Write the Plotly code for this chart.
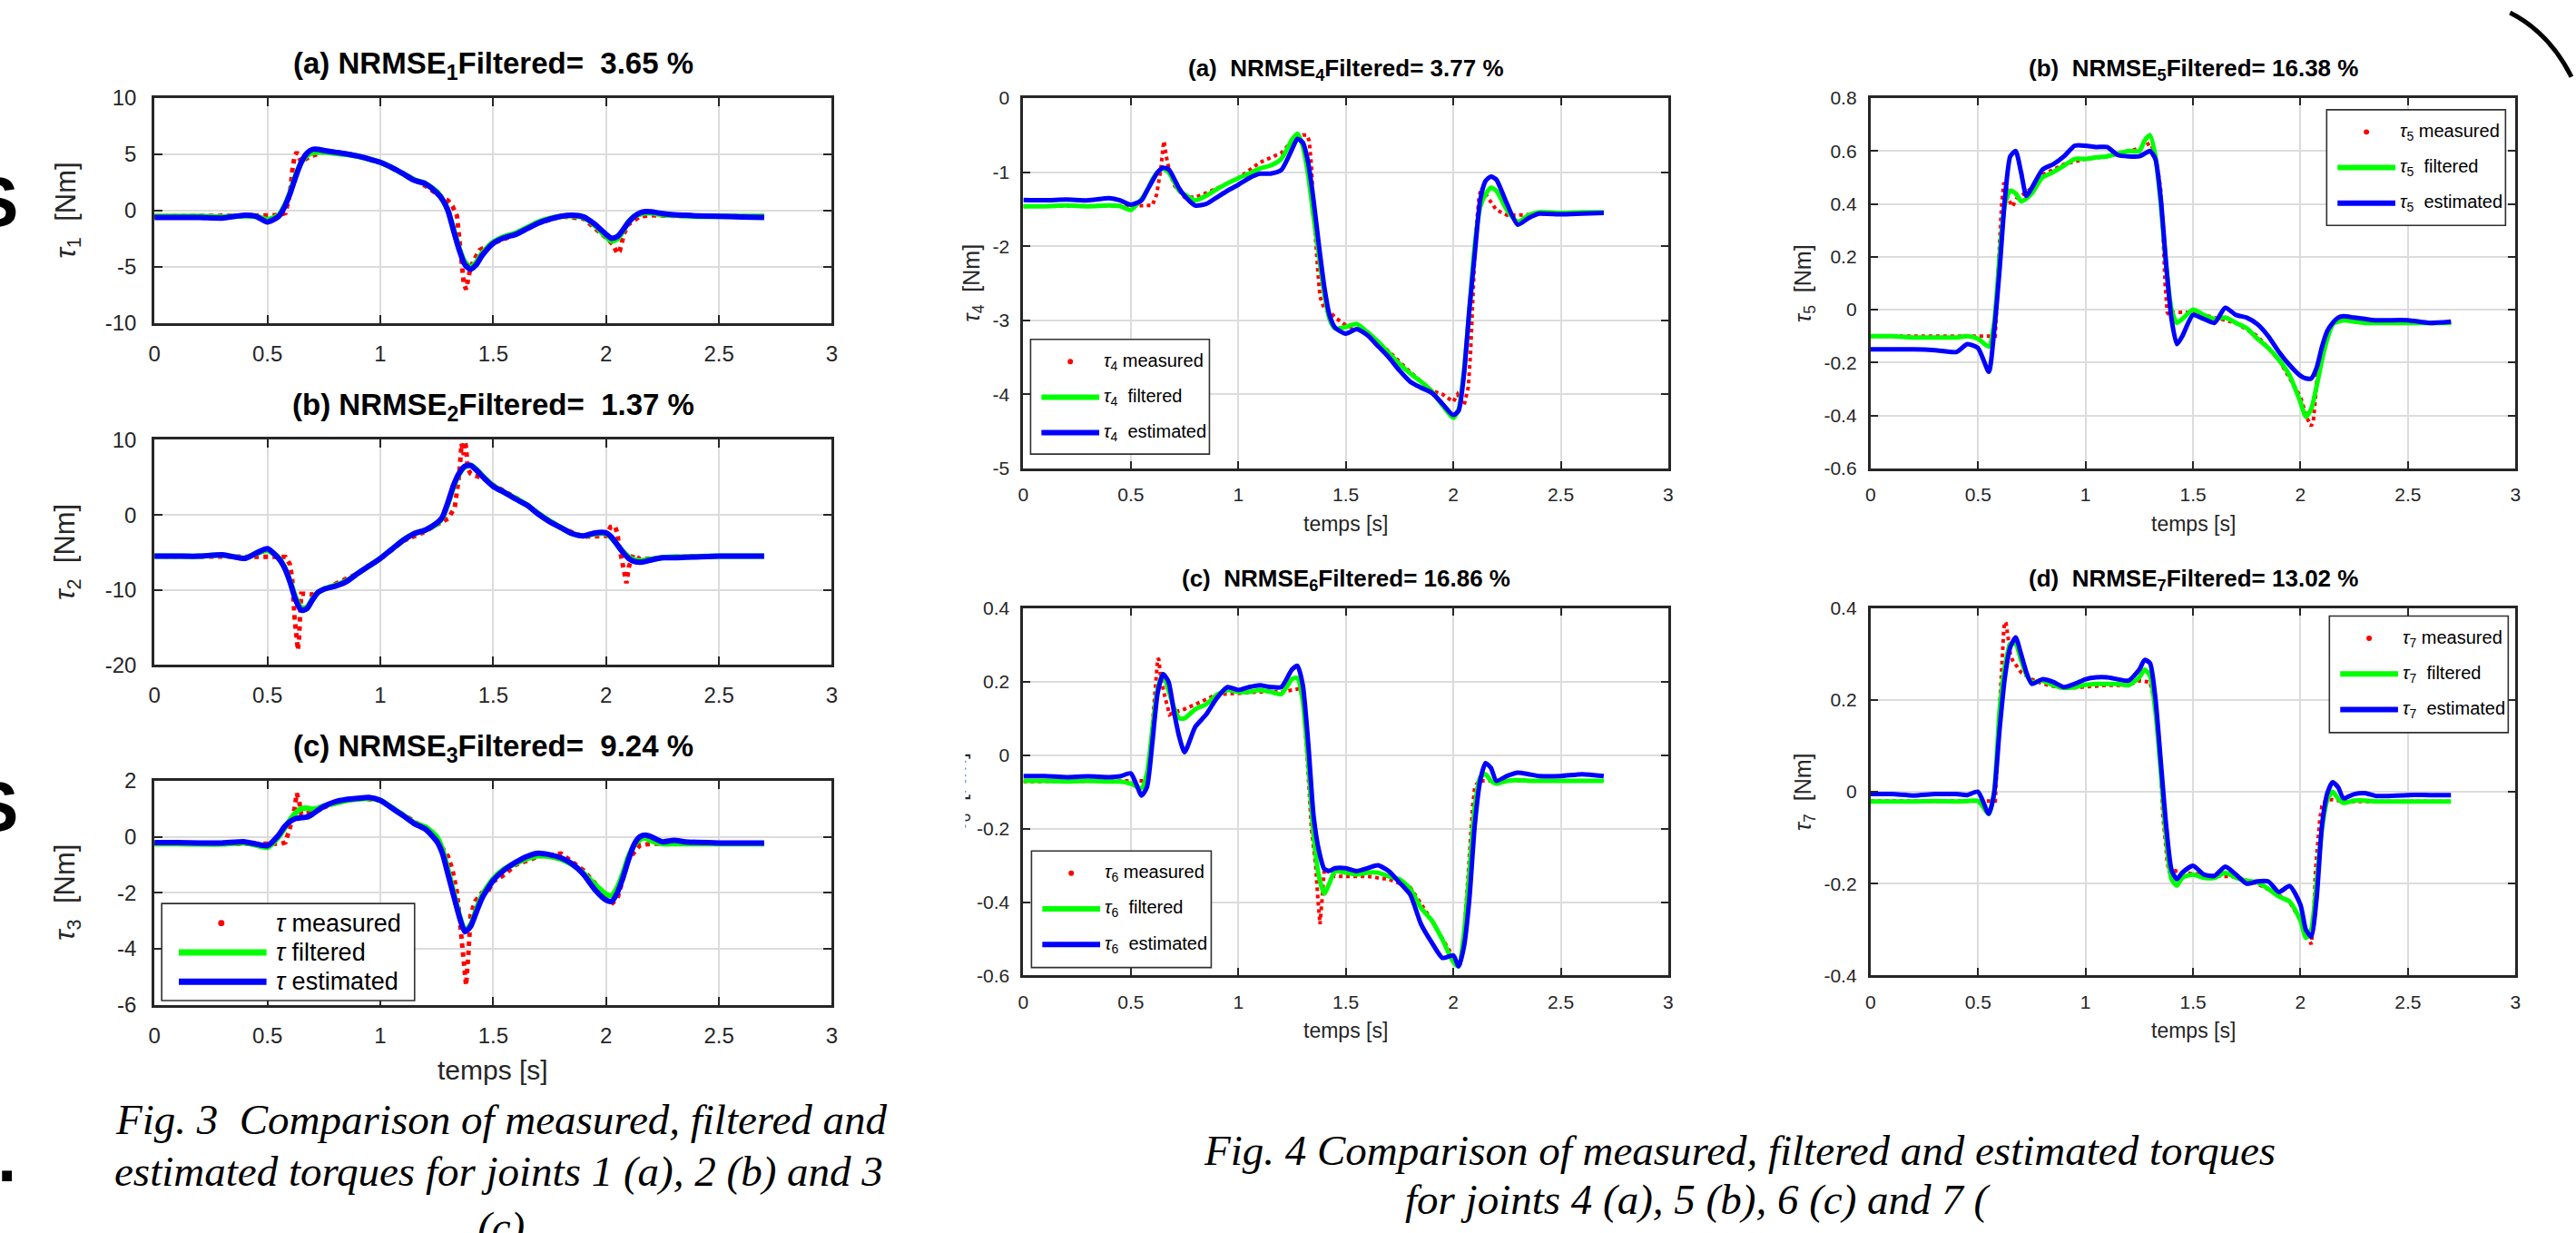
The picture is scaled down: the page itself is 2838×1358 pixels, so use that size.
import plotly.graph_objects as go

W, H = 2838, 1358
FONT = "Liberation Sans, Arial, sans-serif"
SERIF = "Liberation Serif, Times New Roman, serif"

# ---------------- shared time grid for filtered / estimated ----------------
T = [0, 0.1, 0.2, 0.3, 0.4,
     0.45, 0.5, 0.55, 0.575,
     0.6, 0.625, 0.65, 0.675, 0.7, 0.725, 0.75,
     0.8, 0.85, 0.9, 0.95, 1.0,
     1.05, 1.1, 1.15, 1.2, 1.25,
     1.275, 1.3, 1.325, 1.35, 1.375, 1.4, 1.425, 1.45,
     1.5, 1.55, 1.6, 1.65, 1.7, 1.75, 1.8, 1.85, 1.9, 1.95, 2.0,
     2.025, 2.05, 2.075, 2.1, 2.125, 2.15, 2.175,
     2.2, 2.25, 2.3, 2.35, 2.4,
     2.5, 2.6, 2.7]

# ---------------- joint 1 ----------------
est1 = [-0.6, -0.6, -0.6, -0.65, -0.4,
        -0.5, -1.0, -0.5, 0.3,
        1.5, 3.0, 4.3, 5.1, 5.45, 5.45, 5.35,
        5.2, 5.05, 4.85, 4.6, 4.3,
        3.85, 3.3, 2.7, 2.4, 1.6,
        1.0, 0.0, -1.8, -3.5, -4.8, -5.2, -4.8, -4.0,
        -2.9, -2.4, -2.1, -1.6, -1.1, -0.75, -0.5, -0.4, -0.55, -1.2, -2.1,
        -2.45, -2.3, -1.7, -1.0, -0.5, -0.2, -0.08,
        -0.1, -0.25, -0.35, -0.4, -0.45,
        -0.5, -0.55, -0.6]
filt1 = [-0.5, -0.5, -0.5, -0.55, -0.45,
         -0.5, -0.8, -0.4, 0.4,
         1.6, 3.1, 4.3, 4.9, 5.15, 5.2, 5.2,
         5.1, 5.0, 4.85, 4.6, 4.3,
         3.85, 3.3, 2.75, 2.4, 1.7,
         1.0, 0.0, -1.7, -3.4, -4.6, -5.0, -4.6, -3.8,
         -2.8, -2.3, -2.0, -1.5, -1.0, -0.7, -0.5, -0.45, -0.6, -1.3, -2.3,
         -2.7, -2.5, -1.8, -1.0, -0.5, -0.3, -0.2,
         -0.2, -0.35, -0.4, -0.45, -0.5,
         -0.5, -0.5, -0.5]
tm1 = [0, 0.2, 0.4, 0.5, 0.55, 0.58, 0.6, 0.61, 0.62, 0.63, 0.64, 0.65, 0.67, 0.7, 0.75,
       0.8, 0.9, 1.0, 1.1, 1.2, 1.25, 1.3, 1.32, 1.34, 1.35, 1.36, 1.37, 1.38, 1.39, 1.4,
       1.42, 1.44, 1.46, 1.5, 1.6, 1.7, 1.8, 1.9, 2.0, 2.03, 2.05, 2.06, 2.08, 2.1, 2.15,
       2.2, 2.3, 2.5, 2.7]
ym1 = [-0.5, -0.5, -0.5, -0.5, -0.4, -0.2, 1.5, 3.5, 4.8, 5.2, 4.6, 4.3, 4.6, 4.9, 5.2,
       5.2, 4.9, 4.3, 3.3, 2.2, 1.5, 0.9, 0.4, -0.5, -2.5, -4.5, -6.5, -7.0, -6.0, -5.0,
       -4.2, -3.5, -3.3, -2.9, -2.1, -1.1, -0.5, -0.7, -2.4, -3.0, -3.8, -3.6, -2.0, -1.2, -0.5,
       -0.4, -0.45, -0.5, -0.5]

# ---------------- joint 2 ----------------
est2 = [-5.5, -5.5, -5.5, -5.3, -5.8,
        -5.1, -4.5, -5.8, -7.0,
        -8.9, -11.3, -12.7, -12.5, -11.3, -10.3, -9.9,
        -9.5, -8.9, -7.8, -6.8, -5.8,
        -4.6, -3.4, -2.5, -2.0, -1.1,
        -0.3, 1.7, 4.0, 5.6, 6.5, 6.6, 6.0, 5.2,
        3.8, 3.0, 2.1, 1.3, 0.1, -0.9, -1.7, -2.5, -2.8, -2.4, -2.4,
        -3.0, -4.0, -5.0, -5.8, -6.2, -6.3, -6.2,
        -6.0, -5.7, -5.7, -5.65, -5.6,
        -5.5, -5.5, -5.5]
filt2 = [-5.5, -5.5, -5.5, -5.35, -5.75,
         -5.15, -4.7, -5.7, -6.9,
         -8.8, -11.0, -12.4, -12.3, -11.2, -10.3, -9.9,
         -9.4, -8.8, -7.8, -6.8, -5.8,
         -4.6, -3.4, -2.5, -2.0, -1.2,
         -0.4, 1.5, 3.8, 5.5, 6.4, 6.6, 6.1, 5.3,
         3.9, 3.0, 2.2, 1.3, 0.2, -0.8, -1.7, -2.5, -2.8, -2.5, -2.5,
         -3.1, -4.0, -4.9, -5.6, -6.0, -6.1, -6.0,
         -5.9, -5.7, -5.6, -5.6, -5.55,
         -5.5, -5.5, -5.5]
tm2 = [0, 0.2, 0.4, 0.5, 0.55, 0.58, 0.6, 0.61, 0.62, 0.625, 0.63, 0.635, 0.64, 0.645, 0.65,
       0.66, 0.7, 0.75, 0.8, 0.9, 1.0, 1.1, 1.2, 1.25, 1.3, 1.33, 1.35, 1.36, 1.37, 1.375,
       1.38, 1.385, 1.39, 1.4, 1.42, 1.45, 1.5, 1.6, 1.7, 1.8, 1.9, 2.0, 2.02, 2.04, 2.05,
       2.06, 2.07, 2.08, 2.09, 2.1, 2.12, 2.15, 2.2, 2.3, 2.5, 2.7]
ym2 = [-5.5, -5.5, -5.6, -5.5, -5.5, -5.6, -6.6, -8.5, -13.5, -15.5, -17.0, -18.0, -16.5, -13.0, -10.5,
       -10.5, -10.6, -10.0, -9.2, -7.8, -5.9, -3.5, -2.2, -1.3, -0.5, 1.0, 5.5, 9.5, 8.0, 9.8,
       9.0, 7.0, 6.0, 5.5, 5.2, 5.0, 4.0, 2.3, 0.2, -1.7, -2.9, -2.8, -1.6, -1.5, -2.5,
       -4.5, -6.0, -7.5, -9.1, -7.0, -5.3, -5.9, -5.8, -5.6, -5.5, -5.5]

# ---------------- joint 3 ----------------
est3 = [-0.21, -0.21, -0.22, -0.22, -0.18,
        -0.26, -0.32, 0.06, 0.35,
        0.54, 0.65, 0.68, 0.7, 0.81, 0.95, 1.08,
        1.25, 1.33, 1.37, 1.4, 1.3,
        1.03, 0.76, 0.47, 0.27, -0.16,
        -0.59, -1.34, -2.1, -2.85, -3.39, -3.2, -2.7, -2.2,
        -1.56, -1.18, -0.91, -0.7, -0.59, -0.64, -0.75, -0.97, -1.34, -1.88, -2.26,
        -2.31, -1.99, -1.45, -0.8, -0.26, 0.0, 0.06,
        0.0, -0.18, -0.13, -0.18, -0.2,
        -0.22, -0.22, -0.22]
filt3 = [-0.25, -0.25, -0.26, -0.26, -0.22,
         -0.3, -0.38, 0.0, 0.3,
         0.6, 0.85, 1.0, 1.02, 0.98, 1.02, 1.1,
         1.2, 1.3, 1.35, 1.37, 1.3,
         1.05, 0.78, 0.5, 0.35, 0.0,
         -0.45, -1.2, -2.0, -2.8, -3.35, -3.15, -2.6, -2.1,
         -1.5, -1.15, -0.95, -0.78, -0.68, -0.7, -0.8, -1.0, -1.3, -1.7, -2.05,
         -2.1, -1.8, -1.3, -0.7, -0.3, -0.1, -0.05,
         -0.15, -0.25, -0.25, -0.25, -0.25,
         -0.25, -0.25, -0.25]
tm3 = [0, 0.2, 0.4, 0.5, 0.56, 0.58, 0.6, 0.61, 0.62, 0.63, 0.64, 0.65, 0.66, 0.7, 0.75,
       0.8, 0.9, 1.0, 1.1, 1.2, 1.25, 1.3, 1.32, 1.34, 1.35, 1.36, 1.37, 1.375, 1.38, 1.39,
       1.4, 1.42, 1.45, 1.48, 1.5, 1.55, 1.6, 1.7, 1.8, 1.85, 1.9, 2.0, 2.03, 2.05, 2.08,
       2.1, 2.15, 2.2, 2.5, 2.7]
ym3 = [-0.25, -0.25, -0.25, -0.27, -0.25, -0.2, 0.27, 0.6, 1.0, 1.55, 1.3, 0.8, 0.85, 0.85, 1.05,
       1.2, 1.38, 1.3, 0.8, 0.3, -0.1, -0.7, -1.2, -2.0, -2.8, -3.6, -4.15, -4.8, -5.3, -4.2,
       -2.8, -2.3, -2.0, -1.9, -1.6, -1.35, -1.0, -0.7, -0.6, -0.9, -1.2, -2.1, -2.35, -2.2, -1.3,
       -0.8, -0.3, -0.25, -0.25, -0.25]

# ---------------- joint 4 ----------------
est4 = [-1.375, -1.38, -1.37, -1.38, -1.35,
        -1.38, -1.44, -1.38, -1.25,
        -1.12, -1.0, -0.94, -0.96, -1.08, -1.22, -1.32,
        -1.45, -1.43, -1.34, -1.25, -1.17,
        -1.08, -1.02, -1.02, -0.97, -0.69,
        -0.55, -0.6, -0.87, -1.38, -1.99, -2.55, -2.94, -3.1,
        -3.18, -3.12, -3.2, -3.35, -3.5, -3.68, -3.83, -3.91, -3.98, -4.13, -4.28,
        -4.22, -3.72, -2.85, -2.1, -1.38, -1.12, -1.06,
        -1.1, -1.43, -1.71, -1.62, -1.56,
        -1.57, -1.56, -1.55]
filt4 = [-1.46, -1.46, -1.45, -1.46, -1.45,
         -1.46, -1.51, -1.36, -1.25,
         -1.1, -1.0, -0.95, -1.0, -1.12, -1.25, -1.3,
         -1.38, -1.32, -1.23, -1.15, -1.08,
         -1.02, -0.95, -0.91, -0.82, -0.56,
         -0.48, -0.65, -1.04, -1.6, -2.12, -2.64, -2.99, -3.11,
         -3.09, -3.05, -3.16, -3.29, -3.44, -3.59, -3.72, -3.83, -3.96, -4.15, -4.32,
         -4.2, -3.68, -2.85, -1.99, -1.47, -1.3, -1.21,
         -1.25, -1.51, -1.67, -1.58, -1.54,
         -1.55, -1.54, -1.54]
tm4 = [0, 0.2, 0.4, 0.5, 0.6, 0.62, 0.64, 0.65, 0.655, 0.66, 0.67, 0.7, 0.75, 0.8, 0.9,
       1.0, 1.1, 1.2, 1.25, 1.3, 1.32, 1.33, 1.34, 1.35, 1.36, 1.37, 1.38, 1.4, 1.43, 1.45,
       1.5, 1.6, 1.7, 1.8, 1.9, 1.95, 2.0, 2.02, 2.05, 2.07, 2.08, 2.09, 2.1, 2.11, 2.12,
       2.13, 2.15, 2.2, 2.25, 2.3, 2.5, 2.7]
ym4 = [-1.46, -1.46, -1.46, -1.46, -1.45, -1.3, -0.95, -0.65, -0.58, -0.69, -0.87, -1.17, -1.34, -1.34, -1.22,
       -1.08, -0.87, -0.74, -0.58, -0.5, -0.5, -0.58, -0.91, -1.5, -2.0, -2.34, -2.68, -2.85, -2.9, -2.96,
       -3.07, -3.17, -3.42, -3.7, -3.95, -4.0, -4.1, -4.0, -4.15, -3.9, -3.46, -2.68, -2.08, -1.64, -1.34,
       -1.21, -1.3, -1.51, -1.58, -1.58, -1.55, -1.55]

# ---------------- joint 5 ----------------
est5 = [-0.15, -0.15, -0.15, -0.153, -0.16,
        -0.13, -0.145, -0.235, -0.08,
        0.15, 0.42, 0.58, 0.6, 0.52, 0.43, 0.46,
        0.53, 0.55, 0.58, 0.62, 0.62,
        0.615, 0.615, 0.585, 0.58, 0.58,
        0.59, 0.6, 0.57, 0.42, 0.17, -0.035, -0.13, -0.1,
        -0.02, -0.035, -0.05, 0.007, -0.02, -0.03, -0.055, -0.1, -0.16, -0.21, -0.25,
        -0.26, -0.26, -0.22, -0.14, -0.08, -0.05, -0.03,
        -0.025, -0.03, -0.035, -0.04, -0.04,
        -0.04, -0.05, -0.045]
filt5 = [-0.1, -0.1, -0.105, -0.105, -0.105,
         -0.1, -0.11, -0.14, -0.05,
         0.2, 0.4, 0.45, 0.44, 0.41, 0.42, 0.44,
         0.5, 0.52, 0.545, 0.57, 0.57,
         0.576, 0.58, 0.59, 0.6, 0.6,
         0.64, 0.66, 0.58, 0.4, 0.17, 0.0, -0.05, -0.035,
         0.0, -0.02, -0.035, -0.03, -0.05, -0.07, -0.11, -0.145, -0.19, -0.25, -0.35,
         -0.405, -0.375, -0.29, -0.19, -0.11, -0.055, -0.045,
         -0.04, -0.045, -0.05, -0.05, -0.05,
         -0.05, -0.05, -0.05]
tm5 = [0, 0.2, 0.4, 0.5, 0.58, 0.6, 0.61, 0.62, 0.63, 0.64, 0.66, 0.68, 0.7, 0.75, 0.8,
       0.9, 1.0, 1.1, 1.2, 1.25, 1.3, 1.32, 1.34, 1.35, 1.36, 1.37, 1.38, 1.39, 1.4, 1.45,
       1.5, 1.6, 1.7, 1.8, 1.9, 2.0, 2.03, 2.05, 2.06, 2.07, 2.08, 2.1, 2.15, 2.2, 2.5, 2.7]
ym5 = [-0.1, -0.1, -0.1, -0.1, -0.1, 0.25, 0.4, 0.48, 0.47, 0.42, 0.39, 0.42, 0.43, 0.46, 0.51,
       0.55, 0.57, 0.58, 0.6, 0.61, 0.63, 0.6, 0.51, 0.45, 0.3, 0.1, -0.01, -0.02, -0.01, -0.01,
       -0.01, -0.03, -0.05, -0.1, -0.19, -0.33, -0.41, -0.44, -0.42, -0.33, -0.23, -0.15, -0.05, -0.04, -0.05, -0.05]

# ---------------- joint 6 ----------------
est6 = [-0.057, -0.057, -0.06, -0.058, -0.06,
        -0.058, -0.05, -0.11, -0.087,
        0.034, 0.17, 0.22, 0.2, 0.12, 0.05, 0.008,
        0.077, 0.11, 0.155, 0.185, 0.177,
        0.185, 0.19, 0.185, 0.185, 0.233,
        0.243, 0.19, 0.034, -0.165, -0.26, -0.31, -0.315, -0.308,
        -0.308, -0.316, -0.308, -0.3, -0.316, -0.347, -0.38, -0.46, -0.51, -0.552, -0.545,
        -0.575, -0.52, -0.39, -0.19, -0.07, -0.022, -0.035,
        -0.07, -0.057, -0.048, -0.052, -0.057,
        -0.057, -0.052, -0.057]
filt6 = [-0.07, -0.07, -0.072, -0.07, -0.072,
         -0.072, -0.078, -0.09, -0.05,
         0.07, 0.18, 0.22, 0.177, 0.13, 0.1, 0.1,
         0.125, 0.138, 0.164, 0.177, 0.172,
         0.172, 0.177, 0.172, 0.166, 0.207,
         0.21, 0.147, -0.018, -0.217, -0.33, -0.377, -0.347, -0.316,
         -0.32, -0.325, -0.32, -0.32, -0.33, -0.338, -0.364, -0.416, -0.45, -0.503, -0.563,
         -0.575, -0.485, -0.32, -0.14, -0.061, -0.052, -0.07,
         -0.078, -0.07, -0.068, -0.07, -0.07,
         -0.07, -0.07, -0.07]
tm6 = [0, 0.2, 0.4, 0.5, 0.58, 0.6, 0.61, 0.62, 0.625, 0.63, 0.64, 0.66, 0.68, 0.7, 0.75,
       0.8, 0.9, 1.0, 1.1, 1.2, 1.25, 1.28, 1.3, 1.32, 1.34, 1.36, 1.37, 1.375, 1.38, 1.39,
       1.4, 1.45, 1.5, 1.6, 1.7, 1.8, 1.9, 1.95, 2.0, 2.03, 2.05, 2.07, 2.08, 2.09, 2.1,
       2.12, 2.2, 2.5, 2.7]
ym6 = [-0.072, -0.072, -0.072, -0.072, -0.07, 0.08, 0.165, 0.225, 0.263, 0.26, 0.207, 0.155, 0.11, 0.116, 0.125,
       0.138, 0.165, 0.168, 0.172, 0.172, 0.177, 0.18, 0.16, 0.0, -0.2, -0.3, -0.39, -0.43, -0.46, -0.39,
       -0.31, -0.33, -0.33, -0.33, -0.338, -0.36, -0.45, -0.5, -0.55, -0.575, -0.49, -0.32, -0.225, -0.14, -0.087,
       -0.07, -0.07, -0.07, -0.07]

# ---------------- joint 7 ----------------
est7 = [-0.005, -0.005, -0.008, -0.005, -0.005,
        -0.007, 0.0, -0.048, -0.003,
        0.135, 0.25, 0.315, 0.336, 0.3, 0.26, 0.235,
        0.245, 0.239, 0.228, 0.235, 0.245,
        0.249, 0.249, 0.245, 0.242, 0.266,
        0.287, 0.28, 0.204, 0.066, -0.073, -0.17, -0.19, -0.176,
        -0.161, -0.18, -0.183, -0.163, -0.18, -0.2, -0.195, -0.195, -0.218, -0.205, -0.246,
        -0.3, -0.315, -0.232, -0.073, -0.003, 0.021, 0.01,
        -0.014, -0.005, -0.003, -0.009, -0.009,
        -0.007, -0.007, -0.007]
filt7 = [-0.021, -0.021, -0.021, -0.02, -0.021,
         -0.02, -0.02, -0.048, 0.0,
         0.176, 0.273, 0.322, 0.322, 0.287, 0.255, 0.239,
         0.242, 0.232, 0.226, 0.228, 0.233,
         0.235, 0.235, 0.235, 0.232, 0.249,
         0.266, 0.253, 0.176, 0.045, -0.1, -0.19, -0.204, -0.187,
         -0.18, -0.187, -0.187, -0.176, -0.187, -0.194, -0.197, -0.211, -0.228, -0.239, -0.28,
         -0.318, -0.3, -0.197, -0.08, -0.017, 0.0, -0.015,
         -0.024, -0.019, -0.019, -0.021, -0.021,
         -0.021, -0.021, -0.021]
tm7 = [0, 0.2, 0.4, 0.5, 0.58, 0.6, 0.61, 0.62, 0.625, 0.63, 0.64, 0.65, 0.66, 0.68, 0.7,
       0.75, 0.8, 0.9, 1.0, 1.1, 1.2, 1.25, 1.3, 1.32, 1.34, 1.35, 1.36, 1.37, 1.38, 1.39,
       1.4, 1.45, 1.5, 1.6, 1.7, 1.8, 1.9, 1.95, 2.0, 2.03, 2.05, 2.06, 2.07, 2.08, 2.09,
       2.1, 2.12, 2.15, 2.2, 2.7]
ym7 = [-0.02, -0.02, -0.02, -0.02, -0.02, 0.18, 0.287, 0.356, 0.37, 0.367, 0.335, 0.3, 0.287, 0.273, 0.26,
       0.245, 0.235, 0.225, 0.228, 0.232, 0.232, 0.242, 0.239, 0.2, 0.12, 0.05, -0.052, -0.107, -0.152, -0.176,
       -0.17, -0.176, -0.178, -0.183, -0.185, -0.2, -0.225, -0.24, -0.28, -0.31, -0.332, -0.287, -0.17, -0.114, -0.059,
       -0.031, -0.017, -0.017, -0.021, -0.021]

# ---------------- ticks ----------------
x_ticks = [0, 0.5, 1, 1.5, 2, 2.5, 3]
x_tick_labels = ["0", "0.5", "1", "1.5", "2", "2.5", "3"]
y_ticks = {
    1: [-10, -5, 0, 5, 10],
    2: [-20, -10, 0, 10],
    3: [-6, -4, -2, 0, 2],
    4: [-5, -4, -3, -2, -1, 0],
    5: [-0.6, -0.4, -0.2, 0, 0.2, 0.4, 0.6, 0.8],
    6: [-0.6, -0.4, -0.2, 0, 0.2, 0.4],
    7: [-0.4, -0.2, 0, 0.2, 0.4],
}
y_tick_labels = {
    1: ["-10", "-5", "0", "5", "10"],
    2: ["-20", "-10", "0", "10"],
    3: ["-6", "-4", "-2", "0", "2"],
    4: ["-5", "-4", "-3", "-2", "-1", "0"],
    5: ["-0.6", "-0.4", "-0.2", "0", "0.2", "0.4", "0.6", "0.8"],
    6: ["-0.6", "-0.4", "-0.2", "0", "0.2", "0.4"],
    7: ["-0.4", "-0.2", "0", "0.2", "0.4"],
}
NB = "\u00a0"
titles = {
    1: "(a) NRMSE<sub>1</sub>Filtered=" + NB * 2 + "3.65 %",
    2: "(b) NRMSE<sub>2</sub>Filtered=" + NB * 2 + "1.37 %",
    3: "(c) NRMSE<sub>3</sub>Filtered=" + NB * 2 + "9.24 %",
    4: "(a)" + NB * 2 + "NRMSE<sub>4</sub>Filtered= 3.77 %",
    5: "(b)" + NB * 2 + "NRMSE<sub>5</sub>Filtered= 16.38 %",
    6: "(c)" + NB * 2 + "NRMSE<sub>6</sub>Filtered= 16.86 %",
    7: "(d)" + NB * 2 + "NRMSE<sub>7</sub>Filtered= 13.02 %",
}

data = {
    1: (tm1, ym1, filt1, est1), 2: (tm2, ym2, filt2, est2), 3: (tm3, ym3, filt3, est3),
    4: (tm4, ym4, filt4, est4), 5: (tm5, ym5, filt5, est5), 6: (tm6, ym6, filt6, est6),
    7: (tm7, ym7, filt7, est7),
}

# pixel boxes of each axes: (left, right, top, bottom)
boxes = {
    1: (164, 914, 96, 349),
    2: (164, 914, 480, 733),
    3: (164, 914, 863, 1115),
    4: (1126, 1840, 96, 512),
    5: (2064, 2778, 96, 512),
    6: (1126, 1840, 669, 1082),
    7: (2064, 2778, 669, 1082),
}


def fx(px):
    return px / W


def fy(py):
    return 1 - py / H


fig = go.Figure()
layout = {}
shapes = []
anns = []

for j in range(1, 8):
    left_col = j <= 3
    tm, ym, yf, ye = data[j]
    xa = "x" if j == 1 else f"x{j}"
    ya = "y" if j == 1 else f"y{j}"
    lw = 6 if left_col else 5
    dotw = 5 if left_col else 4
    fig.add_trace(go.Scatter(x=tm, y=ym, mode="lines", xaxis=xa, yaxis=ya, showlegend=False,
                             line=dict(color="#ff0000", width=dotw, dash=f"{dotw}px,{dotw}px"),
                             name="measured"))
    fig.add_trace(go.Scatter(x=T, y=yf, mode="lines", xaxis=xa, yaxis=ya, showlegend=False,
                             line=dict(color="#00ff00", width=lw, shape="spline", smoothing=0.6),
                             name="filtered"))
    fig.add_trace(go.Scatter(x=T, y=ye, mode="lines", xaxis=xa, yaxis=ya, showlegend=False,
                             line=dict(color="#0000ff", width=lw, shape="spline", smoothing=0.6),
                             name="estimated"))
    l, r, t, b = boxes[j]
    tf = 24 if left_col else 21
    common = dict(showline=True, linecolor="#262626", linewidth=3, mirror="allticks",
                  ticks="inside", ticklen=9 if left_col else 8, tickwidth=2, tickcolor="#262626",
                  showgrid=True, gridcolor="#dcdcdc", gridwidth=2 if left_col else 1.6,
                  zeroline=False, tickfont=dict(family=FONT, size=tf, color="#262626"))
    yr = y_ticks[j]
    layout["xaxis" if j == 1 else f"xaxis{j}"] = dict(
        common, domain=[fx(l), fx(r)], range=[0, 3], tickvals=x_ticks, ticktext=x_tick_labels,
        anchor=ya, ticklabelstandoff=10 if left_col else 8)
    layout["yaxis" if j == 1 else f"yaxis{j}"] = dict(
        common, domain=[fy(b), fy(t)], range=[yr[0], yr[-1]], tickvals=yr,
        ticktext=y_tick_labels[j], anchor=xa, ticklabelstandoff=12 if left_col else 8)
    # title
    anns.append(dict(x=fx((l + r) / 2), y=fy(t - (37 if left_col else 32)), xref="paper", yref="paper",
                     text="<b>" + titles[j] + "</b>", showarrow=False, xanchor="center", yanchor="middle",
                     font=dict(family=FONT, size=33 if left_col else 26, color="#000000")))
    # y axis title
    if left_col:
        ytx = 68
    elif j == 4:
        ytx = 1070
    elif j == 6:
        ytx = 1055
    else:
        ytx = 1991
    anns.append(dict(x=fx(ytx), y=fy((t + b) / 2), xref="paper", yref="paper", textangle=-90,
                     text="<i>τ</i><sub>%d</sub>%s[Nm]" % (j, NB * 2), showarrow=False,
                     xanchor="center", yanchor="middle",
                     font=dict(family=FONT, size=31 if left_col else 25, color="#262626")))
    # x axis title
    if j == 3:
        anns.append(dict(x=fx((l + r) / 2), y=fy(1188), xref="paper", yref="paper", text="temps [s]",
                         showarrow=False, xanchor="center", yanchor="middle",
                         font=dict(family=FONT, size=30, color="#262626")))
    elif j >= 4:
        anns.append(dict(x=fx((l + r) / 2), y=fy(b + 62), xref="paper", yref="paper", text="temps [s]",
                         showarrow=False, xanchor="center", yanchor="middle",
                         font=dict(family=FONT, size=23, color="#262626")))

# partially hidden y label of panel (c) of Fig. 4
anns.append(dict(x=fx(1043), y=fy(875), xref="paper", yref="paper", text=" ", showarrow=False,
                 width=34, height=150, bgcolor="#ffffff", xanchor="center", yanchor="middle"))


def add_legend(bx0, bx1, by0, by1, dot, line_x, rows, text_x, labels, fsize, llw, dotr):
    shapes.append(dict(type="rect", xref="paper", yref="paper", x0=fx(bx0), x1=fx(bx1),
                       y0=fy(by1), y1=fy(by0), line=dict(color="#303030", width=1.6),
                       fillcolor="#ffffff", layer="above"))
    dx, dy = dot
    shapes.append(dict(type="circle", xref="paper", yref="paper", x0=fx(dx - dotr), x1=fx(dx + dotr),
                       y0=fy(dy + dotr), y1=fy(dy - dotr), fillcolor="#ff0000",
                       line=dict(width=0), layer="above"))
    for yy, col in zip(rows[1:], ["#00ff00", "#0000ff"]):
        shapes.append(dict(type="line", xref="paper", yref="paper", x0=fx(line_x[0]), x1=fx(line_x[1]),
                           y0=fy(yy), y1=fy(yy), line=dict(color=col, width=llw), layer="above"))
    for yy, lab in zip(rows, labels):
        anns.append(dict(x=fx(text_x), y=fy(yy), xref="paper", yref="paper", text=lab, showarrow=False,
                         xanchor="left", yanchor="middle",
                         font=dict(family=FONT, size=fsize, color="#000000")))


add_legend(172, 452, 1001, 1110, (238, 1023), (191, 288), [1023, 1056, 1089], 296,
           ["<i>τ</i> measured", "<i>τ</i> filtered", "<i>τ</i> estimated"], 27, 7, 3.5)

right_legends = {4: (1134, 1332, 367, 496), 5: (2569, 2767, 109, 239),
                 6: (1135, 1334, 942, 1073), 7: (2572, 2770, 678, 809)}
for j, (bx0, bx1, by0, by1) in right_legends.items():
    add_legend(bx0, bx1, by0, by1, (bx0 + 44, by0 + 25), (bx0 + 12, bx0 + 76),
               [by0 + 25, by0 + 65, by0 + 105], bx0 + 79,
               ["<i>τ</i><sub>%d</sub> measured" % j,
                "<i>τ</i><sub>%d</sub>%sfiltered" % (j, NB * 2),
                "<i>τ</i><sub>%d</sub>%sestimated" % (j, NB * 2)], 20, 6, 3)

# captions
cap = [
    ("Fig. 3" + NB * 2 + "Comparison of measured, filtered and", 548, 1244),
    ("estimated torques for joints 1 (a), 2 (b) and 3", 545, 1302),
    ("(c)", 548, 1364),
    ("Fig. 4 Comparison of measured, filtered and estimated torques", 1919, 1278),
    ("for joints 4 (a), 5 (b), 6 (c) and 7 (", 1873, 1334),
]
for txt, cx, cy in cap:
    anns.append(dict(x=fx(cx), y=fy(cy), xref="paper", yref="paper", text="<i>" + txt + "</i>",
                     showarrow=False, xanchor="center", yanchor="middle",
                     font=dict(family=SERIF, size=47, color="#000000")))

# page fragments cut off at the left edge
for txt, cy in [("S", 212), ("S", 892), (".", 1286)]:
    anns.append(dict(x=fx(-13 if txt == "S" else 0), y=fy(cy), xref="paper", yref="paper",
                     text="<b>" + txt + "</b>", showarrow=False, xanchor="center", yanchor="middle",
                     font=dict(family=FONT, size=77, color="#000000")))

# curved fragment at the top-right corner
shapes.append(dict(type="path", xref="paper", yref="paper",
                   path="M %f,%f Q %f,%f %f,%f" % (fx(2772), fy(0), fx(2815), fy(22), fx(2840), fy(72)),
                   line=dict(color="#000000", width=5)))

fig.update_layout(
    width=W, height=H, autosize=False,
    margin=dict(l=0, r=0, t=0, b=0),
    paper_bgcolor="#ffffff", plot_bgcolor="#ffffff",
    showlegend=False,
    shapes=shapes, annotations=anns,
    **layout,
)

fig.write_html("out.html", config={"displayModeBar": False},
               post_script="document.body.style.margin='0';document.body.style.overflow='hidden';")
